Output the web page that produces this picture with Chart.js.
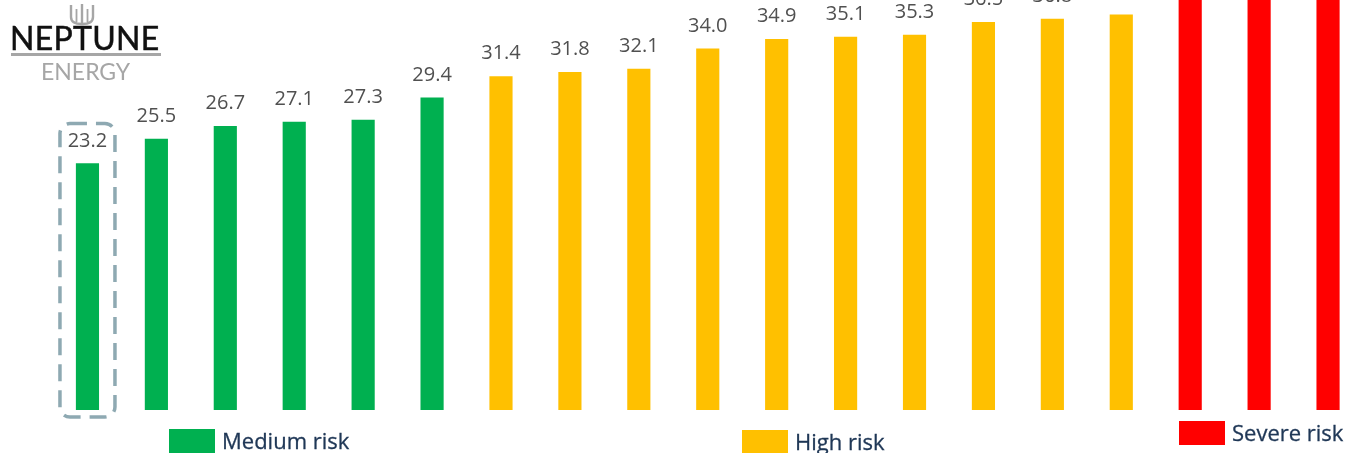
<!DOCTYPE html>
<html lang="en">
<head>
<meta charset="UTF-8" />
<title>Risk ranking</title>
<script src="https://cdn.jsdelivr.net/npm/chart.js"></script>
<style>
  html, body { margin: 0; padding: 0; background: #fff; overflow: hidden; }
  #wrap { position: relative; width: 1347px; height: 453px; overflow: hidden; }
  #chart { position: absolute; left: 0; top: 0; }
  .logo { position: absolute; left: 0; top: 0; width: 175px; height: 90px; }
  .logo .name { position: absolute; left: 10px; top: 18px; font-family: Lato, sans-serif; font-size: 32px; color: #111; letter-spacing: 0.3px; line-height: 40px; -webkit-text-stroke: 0.5px #111; }
  .logo .rule { position: absolute; left: 11px; top: 53px; width: 150px; height: 3px; background: #a6a6a6; }
  .logo .sub { position: absolute; left: 41px; top: 56px; font-family: Lato, sans-serif; font-size: 23px; color: #a6a6a6; line-height: 30px; }
  .logo svg { position: absolute; left: 68px; top: 4px; }
  .key { position: absolute; font-family: "Open Sans", sans-serif; font-size: 22px; color: #1f3756; line-height: 24px; white-space: nowrap; -webkit-text-stroke: 0.3px #1f3756; }
  .key i { position: absolute; left: 0; top: 0; width: 46px; height: 24px; }
  .key span { position: absolute; left: 53px; top: -1px; }
</style>
</head>
<body>
<div id="wrap">
  <canvas id="chart" width="1380" height="453"></canvas>

  <div class="logo">
    <svg width="28" height="24" viewBox="0 0 28 24">
      <g fill="none" stroke="#a6a6a6" stroke-width="2.4">
        <path d="M3 1 L3 13 Q3 20 14 20 Q25 20 25 13 L25 1" />
        <path d="M14 0 L14 21" />
        <path d="M8.5 5 L8.5 18 M19.5 5 L19.5 18" stroke-width="1.8" />
      </g>
    </svg>
    <div class="name">NEPTUNE</div>
    <div class="rule"></div>
    <div class="sub">ENERGY</div>
  </div>

  <div class="key" style="left:169px; top:429px;"><i style="background:#00b050"></i><span>Medium risk</span></div>
  <div class="key" style="left:742px; top:430px;"><i style="background:#ffc000"></i><span>High risk</span></div>
  <div class="key" style="left:1179px; top:421px;"><i style="background:#ff0000"></i><span>Severe risk</span></div>
</div>

<script>
// scores per site, sorted low to high
const values = [23.2, 25.5, 26.7, 27.1, 27.3, 29.4,
                31.4, 31.8, 32.1, 34.0, 34.9, 35.1, 35.3, 36.5, 36.8, 37.2,
                40.3, 41.7, 43.1];
const riskLevels = ['medium', 'medium', 'medium', 'medium', 'medium', 'medium',
                    'high', 'high', 'high', 'high', 'high', 'high', 'high', 'high', 'high', 'high',
                    'severe', 'severe', 'severe'];
const categories = values.map((v, i) => 'S' + (i + 1));

const riskColours = { medium: '#00b050', high: '#ffc000', severe: '#ff0000' };

// value labels above each bar + dashed box around the first one
const barExtras = {
  id: 'barExtras',
  afterDatasetsDraw(chart) {
    const ctx = chart.ctx;
    const bars = chart.getDatasetMeta(0).data;
    ctx.save();
    ctx.font = '20px "Open Sans", sans-serif';
    ctx.fillStyle = '#505050';
    ctx.textAlign = 'center';
    ctx.textBaseline = 'alphabetic';
    bars.forEach((bar, i) => {
      ctx.fillText(values[i].toFixed(1), bar.x, bar.y - 17);
    });

    const first = bars[0];
    const x0 = first.x - 27.5, x1 = first.x + 27.5;
    const y0 = first.y - 40, y1 = first.base + 7;
    ctx.strokeStyle = '#8ea9b2';
    ctx.lineWidth = 3.5;
    ctx.setLineDash([17, 9]);
    ctx.beginPath();
    ctx.roundRect(x0, y0, x1 - x0, y1 - y0, 10);
    ctx.stroke();
    ctx.restore();
  }
};

new Chart(document.getElementById('chart'), {
  type: 'bar',
  data: {
    labels: categories,
    datasets: [{
      data: values,
      backgroundColor: riskLevels.map(r => riskColours[r]),
      barThickness: 22.5,
      borderWidth: 0
    }]
  },
  options: {
    responsive: false,
    animation: false,
    layout: { padding: { left: 53, right: 17.5, top: 0, bottom: 43 } },
    plugins: { legend: { display: false }, tooltip: { enabled: false } },
    scales: {
      x: { display: false, offset: true, grid: { display: false } },
      y: { display: false, min: 0, max: 38.6 }
    }
  },
  plugins: [barExtras]
});
</script>
</body>
</html>
